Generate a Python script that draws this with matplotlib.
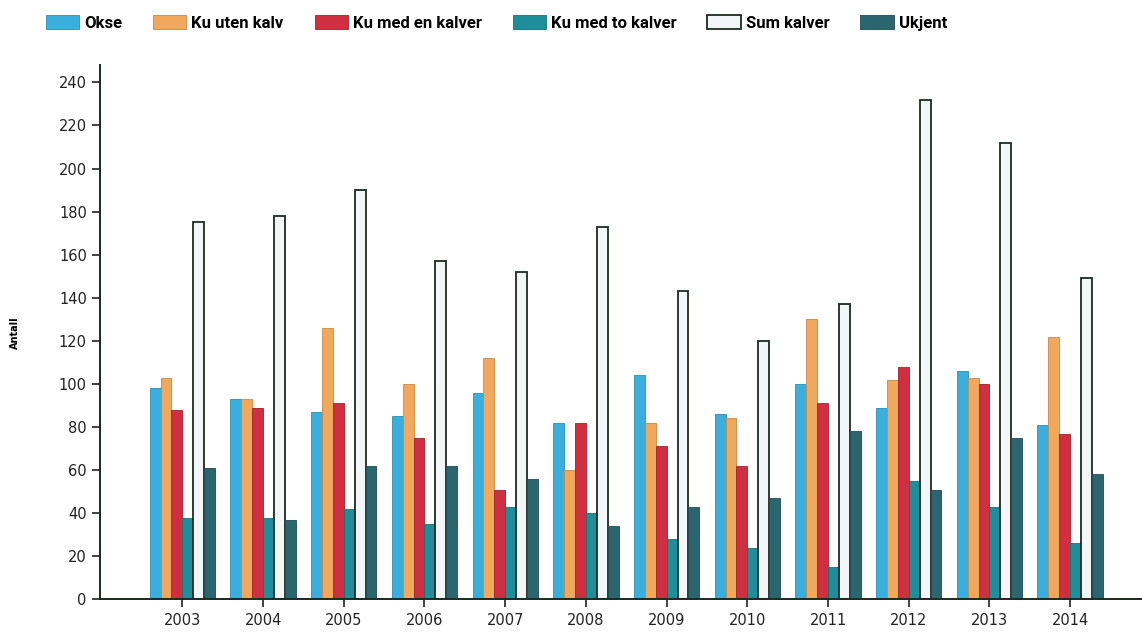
import numpy as np
import matplotlib.pyplot as plt

years = [2003, 2004, 2005, 2006, 2007, 2008, 2009, 2010, 2011, 2012, 2013, 2014]
okse = [98, 93, 87, 85, 96, 82, 104, 86, 100, 89, 106, 81]
ku_uten = [103, 93, 126, 100, 112, 60, 82, 84, 130, 102, 103, 122]
ku_en = [88, 89, 91, 75, 51, 82, 71, 62, 91, 108, 100, 77]
ku_to = [38, 38, 42, 35, 43, 40, 28, 24, 15, 55, 43, 26]
sum_kalver = [175, 178, 190, 157, 152, 173, 143, 120, 137, 232, 212, 149]
ukjent = [61, 37, 62, 62, 56, 34, 43, 47, 78, 51, 75, 58]

labels = ["Okse", "Ku uten kalv", "Ku med en kalver", "Ku med to kalver", "Sum kalver", "Ukjent"]
series = [okse, ku_uten, ku_en, ku_to, sum_kalver, ukjent]
colors = ["#3aaedc", "#f2a85c", "#cf2f40", "#1d8e9a", "#f3f6f6", "#2b6670"]
edges = ["#2b8fb5", "#c98a45", "#9e2230", "#176f78", "#1c2b22", "#1f4c54"]

fig = plt.figure(figsize=(11.42, 6.39), dpi=100)
ax = fig.add_axes([0.0876, 0.062, 0.9124, 0.836])

x = np.array(years)
w = 0.135
for i, (vals, lab) in enumerate(zip(series, labels)):
    lw = 1.3 if lab == "Sum kalver" else 0.6
    ax.bar(x + (i - 2.5) * w, vals, width=w, color=colors[i], edgecolor=edges[i],
           linewidth=lw, label=lab)

ax.set_xlim(2003 - 1.02, 2014 + 0.89)
ax.set_ylim(0, 248)
ax.set_yticks(range(0, 241, 20))
ax.set_xticks(years)
ax.tick_params(axis="both", direction="out", length=6, width=1.2, labelsize=10.5,
               colors="#222222")
for s in ["top", "right"]:
    ax.spines[s].set_visible(False)
ax.spines["left"].set_linewidth(1.4)
ax.spines["bottom"].set_linewidth(1.4)
ax.spines["left"].set_color("#1a2a20")
ax.spines["bottom"].set_color("#1a2a20")

ax.set_ylabel("Antall", fontsize=7, fontweight="bold", labelpad=28)

fig.legend(loc="upper left", bbox_to_anchor=(0.027, 1.0), ncol=6, frameon=False,
           handlelength=2.0, handleheight=0.9, handletextpad=0.3, columnspacing=1.85,
           prop={"family": ["Roboto", "DejaVu Sans"], "weight": "bold", "size": 12})

plt.savefig("out.png", dpi=100)
